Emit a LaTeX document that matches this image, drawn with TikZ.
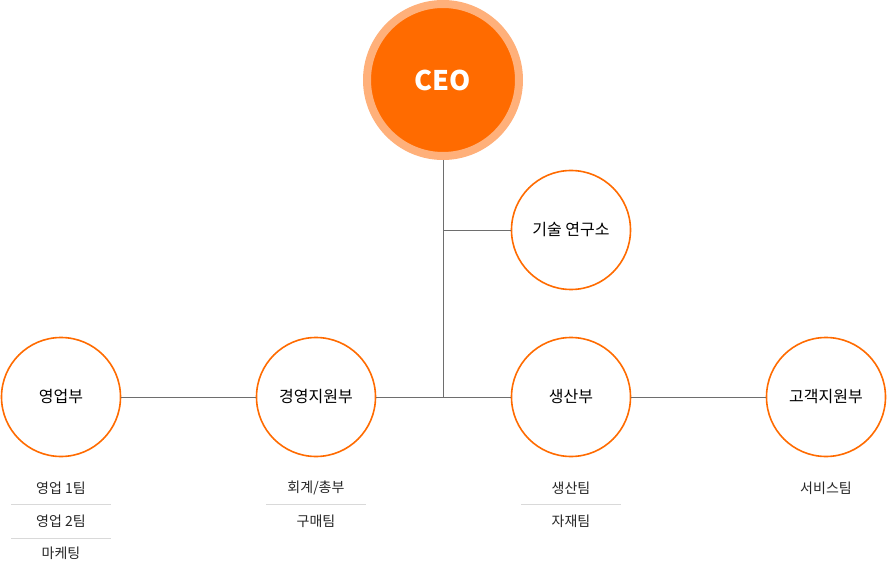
\documentclass[tikz,border=0pt]{standalone}
\usepackage{fontspec}
\setmainfont{Noto Sans CJK KR}
\definecolor{ceoorange}{RGB}{255,107,0}
\definecolor{ceoring}{RGB}{255,176,122}
\definecolor{linegray}{RGB}{110,110,110}
\begin{document}
\begin{tikzpicture}[x=1pt,y=-1pt,
  dept/.style={circle, draw=ceoorange, line width=1.6pt, fill=white, minimum size=119pt, inner sep=0pt, font=\fontsize{16}{19}\selectfont},
  team/.style={font=\fontsize{14}{17}\selectfont, text=black!85},
  sep/.style={draw=black!15, line width=0.6pt},
  link/.style={draw=linegray, line width=0.8pt}
]
  \useasboundingbox (0,0) rectangle (887,564);
  % org nodes
  \node[circle, fill=ceoorange, draw=ceoring, line width=8pt, minimum size=152pt, inner sep=0pt, text=white, font=\fontsize{27}{30}\bfseries] (ceo) at (443,80) {CEO};
  \node[dept] (lab) at (571,230) {기술 연구소};
  \node[dept] (sales) at (61,397) {영업부};
  \node[dept] (admin) at (316,397) {경영지원부};
  \node[dept] (prod) at (571,397) {생산부};
  \node[dept] (cs) at (826,397) {고객지원부};
  \coordinate (hub) at (443,397);
  \coordinate (mid) at (443,230);

  \draw[link] (ceo.south) -- (hub);
  \draw[link] (mid) -- (lab.west);
  \draw[link] (sales.east) -- (admin.west);
  \draw[link] (admin.east) -- (prod.west);
  \draw[link] (prod.east) -- (cs.west);

  % teams
  \node[team] (s1) at (61,488) {영업 1팀};
  \node[team] (s2) at (61,521) {영업 2팀};
  \node[team] (s3) at (61,553) {마케팅};
  \node[team] (a1) at (316,488) {회계/총부};
  \node[team] (a2) at (316,521) {구매팀};
  \node[team] (p1) at (571,488) {생산팀};
  \node[team] (p2) at (571,521) {자재팀};
  \node[team] (c1) at (826,488) {서비스팀};
  \foreach \x/\y in {61/504, 61/538, 316/504, 571/504}
    \draw[sep] (\x-50,\y) -- (\x+50,\y);
\end{tikzpicture}
\end{document}
